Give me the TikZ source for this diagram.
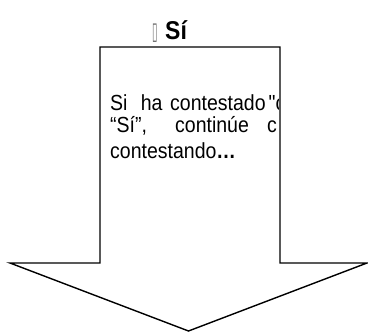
\documentclass[tikz,border=0pt]{standalone}
\usepackage{fontspec}
\usepackage{xcolor}
\setmainfont{Liberation Sans}[Ligatures=TeXOff]
\newfontfamily\boxfont{DejaVu Sans}
\definecolor{boxgray}{RGB}{110,110,110}
\newcommand{\tallword}[1]{\scalebox{1}[1.12]{#1}}

\begin{document}
\begin{tikzpicture}[x=1pt,y=-1pt,
    outline/.style={draw=black,line width=1.4pt,line join=miter},
    bodytxt/.style={inner sep=0pt,anchor=base west,font=\fontsize{19.5}{22}\selectfont},
    headtxt/.style={inner sep=0pt,anchor=base west,font=\fontsize{23}{25}\selectfont\bfseries}]
    \useasboundingbox (0,0) rectangle (368,333);

    % Heading
    \node[inner sep=0pt,anchor=base west,text=boxgray,font=\boxfont\fontsize{18}{20}\selectfont] (mark) at (152,39) {\scalebox{0.55}[1.35]{▯}};
    \node[headtxt] (yes) at (165,39) {\tallword{Sí}};

    % Arrow outline
    \draw[outline] (100,47) -- (280,47) -- (280,263) -- (367,263)
        -- (188.5,331) -- (10,263) -- (100,263) -- cycle;

    % Text inside the shaft (cut at the right edge)
    \begin{scope}
        \clip (100,47) rectangle (279,263);
        \node[bodytxt] (si) at (110,110) {\tallword{Si}};
        \node[bodytxt] (ha) at (140.7,110) {\tallword{ha}};
        \node[bodytxt] (cont) at (170,110) {\tallword{contestado}};
        \node[bodytxt] (quo) at (268.5,110) {\tallword{"c}};
        \node[bodytxt] (sii) at (110,132) {\tallword{“Sí”,}};
        \node[bodytxt] (cue) at (175,132) {\tallword{continúe}};
        \node[bodytxt] (cc) at (267,132) {\tallword{c}};
        \node[bodytxt] (last) at (110,158) {\tallword{contestando\textbf{…}}};
    \end{scope}
\end{tikzpicture}
\end{document}
